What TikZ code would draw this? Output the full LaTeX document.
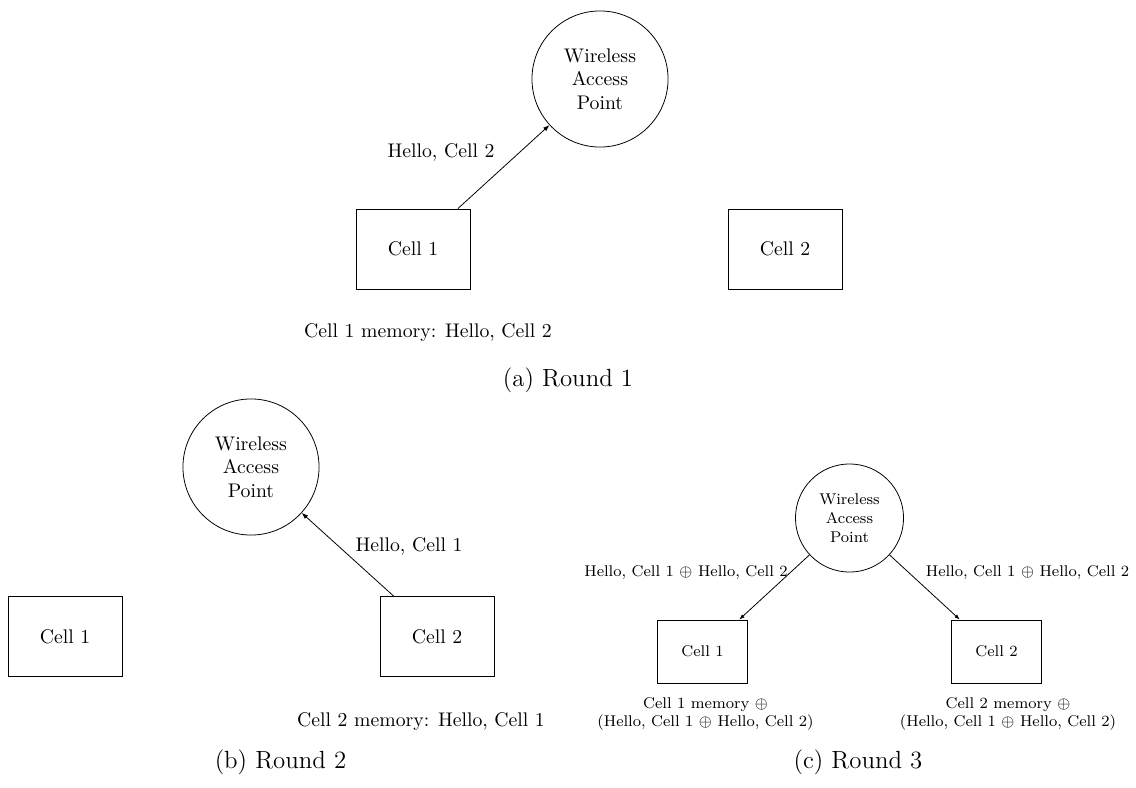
\documentclass[tikz,border=0pt]{standalone}
\usetikzlibrary{arrows.meta}

\tikzset{
  ap/.style={draw, circle, minimum size=69pt, inner sep=0pt, align=center,
             font=\fontsize{10}{12}\selectfont},
  cellbox/.style={draw, rectangle, minimum width=57.8pt, minimum height=40.6pt,
                  inner sep=0pt, font=\fontsize{10}{12}\selectfont},
  txt/.style={inner sep=0pt, font=\fontsize{10}{12}\selectfont},
  apsmall/.style={ap, minimum size=54.8pt, font=\fontsize{7.9}{9.5}\selectfont},
  cellsmall/.style={cellbox, minimum width=45.9pt, minimum height=32pt,
                    font=\fontsize{7.9}{9.5}\selectfont},
  txtsmall/.style={txt, align=center, font=\fontsize{7.9}{9.3}\selectfont},
  capt/.style={inner sep=0pt, font=\fontsize{12.6}{15}\selectfont},
  msg/.style={-{Latex[length=3.2pt,width=2.4pt]}, line width=0.4pt},
  msgsmall/.style={-{Latex[length=2.7pt,width=2pt]}, line width=0.4pt}
}

\begin{document}
\begin{tikzpicture}[x=0.507pt, y=-0.507pt]
\useasboundingbox (0,0) rectangle (1136,787);

% (a) Round 1: Cell 1 sends its greeting to the access point
\node[ap] (apa) at (600,79) {Wireless\\Access\\Point};
\node[cellbox] (c1a) at (413,249) {Cell 1};
\node[cellbox] (c2a) at (785,249) {Cell 2};
\draw[msg] (c1a.42) -- (apa);
\node[txt] (la) at (441,152) {Hello, Cell 2};
\node[txt] (mema) at (428,333) {Cell 1 memory: Hello, Cell 2};
\node[capt] (capa) at (568,380) {(a) Round 1};

% (b) Round 2: Cell 2 sends its greeting to the access point
\node[ap] (apb) at (251,467) {Wireless\\Access\\Point};
\node[cellbox] (c1b) at (65,636.5) {Cell 1};
\node[cellbox] (c2b) at (437,636.5) {Cell 2};
\draw[msg] (c2b.137.5) -- (apb);
\node[txt] (lb) at (409,546) {Hello, Cell 1};
\node[txt] (memb) at (421,722) {Cell 2 memory: Hello, Cell 1};
\node[capt] (capb) at (280.5,762) {(b) Round 2};

% (c) Round 3: the access point broadcasts the XOR of both greetings
\node[apsmall] (apc) at (849.5,518) {Wireless\\Access\\Point};
\node[cellsmall] (c1c) at (702.5,651.5) {Cell 1};
\node[cellsmall] (c2c) at (996.5,651.5) {Cell 2};
\draw[msgsmall] (apc) -- (c1c.41);
\draw[msgsmall] (apc) -- (c2c.139);
\node[txtsmall] (lc1) at (686,573) {Hello, Cell 1 $\oplus$ Hello, Cell 2};
\node[txtsmall] (lc2) at (1027.5,573) {Hello, Cell 1 $\oplus$ Hello, Cell 2};
\node[txtsmall] (memc1) at (705.5,714) {Cell 1 memory $\oplus$\\(Hello, Cell 1 $\oplus$ Hello, Cell 2)};
\node[txtsmall] (memc2) at (1008,714) {Cell 2 memory $\oplus$\\(Hello, Cell 1 $\oplus$ Hello, Cell 2)};
\node[capt] (capc) at (858,762) {(c) Round 3};
\end{tikzpicture}
\end{document}
